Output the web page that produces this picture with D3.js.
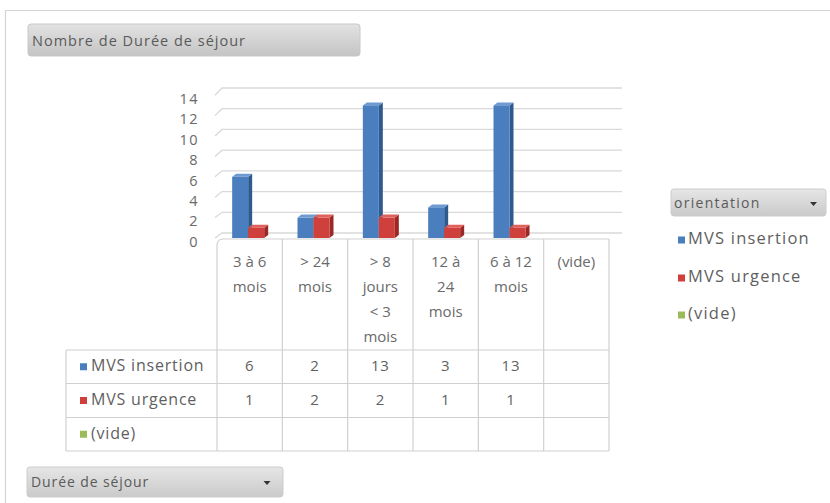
<!DOCTYPE html>
<html>
<head>
<meta charset="utf-8">
<script src="https://cdn.jsdelivr.net/npm/d3@7"></script>
<style>
  html, body { margin: 0; padding: 0; background: #fff; }
  svg { display: block; font-family: "Open Sans", "Noto Sans", sans-serif; }
</style>
</head>
<body>
<svg id="chart" width="830" height="503"></svg>
<script>
// ---- data ----
const categories = ["3 à 6 mois", "> 24 mois", "> 8 jours < 3 mois", "12 à 24 mois", "6 à 12 mois", "(vide)"];
const categoryLines = [["3 à 6", "mois"], ["> 24", "mois"], ["> 8", "jours", "< 3", "mois"], ["12 à", "24", "mois"], ["6 à 12", "mois"], ["(vide)"]];
const seriesNames = ["MVS insertion", "MVS urgence", "(vide)"];
const insertionValues = [6, 2, 13, 3, 13, null];
const urgenceValues = [1, 2, 2, 1, 1, null];
const videValues = [null, null, null, null, null, null];
const yTicks = [0, 2, 4, 6, 8, 10, 12, 14];
const titleText = "Nombre de Durée de séjour";
const legendTitle = "orientation";
const axisFieldText = "Durée de séjour";

const seriesColors = [
  { face: "#4a7ebf", side: "#2f5a8e", top: "#6e9ad2" },
  { face: "#cf3f3b", side: "#9a2926", top: "#e0605b" },
  { face: "#9bbb59", side: "#76913f", top: "#b3cf78" }
];
const seriesValues = [insertionValues, urgenceValues, videValues];

const svg = d3.select("#chart");
const defs = svg.append("defs");
function grad(id, c1, c2) {
  const g = defs.append("linearGradient").attr("id", id).attr("x1", 0).attr("y1", 0).attr("x2", 0).attr("y2", 1);
  g.append("stop").attr("offset", "0%").attr("stop-color", c1);
  g.append("stop").attr("offset", "100%").attr("stop-color", c2);
}
grad("btnTitle", "#e2e2e2", "#c4c4c4");
grad("btnField", "#e6e6e6", "#cacaca");

// ---- scales ----
const x = d3.scaleBand().domain(categories).range([217, 609]);
const yFront = d3.scaleLinear().domain([0, 14]).range([238, 95.2]);
const yBack = d3.scaleLinear().domain([0, 14]).range([233, 88]);
const sideX0 = 215, sideX1 = 222, backRight = 622;

// outer frame
svg.append("path").attr("d", "M5.5,503 V10.5 H830").attr("fill", "none").attr("stroke", "#d4d4d4").attr("stroke-width", 1.2);

// title button
svg.append("rect").attr("x", 28).attr("y", 24).attr("width", 332).attr("height", 32).attr("rx", 3)
  .attr("fill", "url(#btnTitle)").attr("stroke", "#c8c8c8");
svg.append("text").attr("x", 32).attr("y", 42).attr("dominant-baseline", "middle")
  .attr("font-size", 14.5).attr("letter-spacing", 1).attr("fill", "#5a5a5a").text(titleText);

// gridlines (back wall + side wall diagonal)
const grid = svg.append("g").attr("fill", "none").attr("stroke", "#d9d9d9").attr("stroke-width", 1.3);
yTicks.forEach(v => {
  grid.append("path").attr("d", `M${sideX0},${yFront(v)} L${sideX1},${yBack(v)} H${backRight}`);
});

// y tick labels
svg.append("g").selectAll("text").data(yTicks).join("text")
  .attr("x", 199).attr("y", d => yFront(d) + 5)
  .attr("text-anchor", "end").attr("dominant-baseline", "middle")
  .attr("font-size", 14.5).attr("letter-spacing", 1.5).attr("fill", "#6a6a6a").text(d => d);

// ---- 3D bars ----
const barW = 16, dx = 4, dy = 3;
const offsets = [-17.5, -1.5, 14.5];
const bars = svg.append("g");
seriesValues.forEach((vals, si) => {
  const col = seriesColors[si];
  categories.forEach((c, ci) => {
    const v = vals[ci];
    if (v == null) return;
    const x0 = x(c) + x.bandwidth() / 2 + offsets[si];
    const x1 = x0 + barW;
    const yb = yFront(0), yt = yFront(v);
    bars.append("polygon").attr("points", `${x1},${yt} ${x1 + dx},${yt - dy} ${x1 + dx},${yb - dy} ${x1},${yb}`).attr("fill", col.side);
    bars.append("polygon").attr("points", `${x0},${yt} ${x0 + dx},${yt - dy} ${x1 + dx},${yt - dy} ${x1},${yt}`).attr("fill", col.top);
    bars.append("rect").attr("x", x0).attr("y", yt).attr("width", barW).attr("height", yb - yt).attr("fill", col.face);
  });
});

// ---- data table ----
const tableLeft = 66, tableRight = x.range()[1];
const rowLines = [350, 383.5, 417.5, 451];
const lineColor = "#d0d0d0";
const tbl = svg.append("g").attr("stroke", lineColor).attr("stroke-width", 1.2).attr("fill", "none");
tbl.append("path").attr("d", `M${x.range()[0]},246 Q${x.range()[0]},239 ${x.range()[0] + 6},239 H${tableRight}`);
const colEdges = categories.map(c => x(c)).concat([tableRight]);
colEdges.forEach((cx, i) => {
  tbl.append("line").attr("x1", cx).attr("x2", cx).attr("y1", i === 0 ? 246 : 239).attr("y2", rowLines[3]);
});
rowLines.forEach(y => tbl.append("line").attr("x1", tableLeft).attr("x2", tableRight).attr("y1", y).attr("y2", y));
tbl.append("line").attr("x1", tableLeft).attr("x2", tableLeft).attr("y1", rowLines[0]).attr("y2", rowLines[3]);

// category header labels
const catG = svg.append("g").attr("font-size", 15).attr("fill", "#6a6a6a").attr("text-anchor", "middle");
categories.forEach((c, ci) => {
  categoryLines[ci].forEach((ln, li) => {
    catG.append("text").attr("x", x(c) + x.bandwidth() / 2).attr("y", 263 + li * 25)
      .attr("dominant-baseline", "middle").text(ln);
  });
});

// row labels & values
seriesNames.forEach((name, si) => {
  const cy = (rowLines[si] + rowLines[si + 1]) / 2;
  svg.append("rect").attr("x", 80).attr("y", cy - 3.5).attr("width", 7).attr("height", 7).attr("fill", seriesColors[si].face);
  svg.append("text").attr("x", 91).attr("y", cy).attr("dominant-baseline", "middle")
    .attr("font-size", 16).attr("letter-spacing", 0.8).attr("fill", "#5f5f5f").text(name);
  categories.forEach((c, ci) => {
    const v = seriesValues[si][ci];
    if (v == null) return;
    svg.append("text").attr("x", x(c) + x.bandwidth() / 2).attr("y", cy)
      .attr("text-anchor", "middle").attr("dominant-baseline", "middle")
      .attr("font-size", 15).attr("letter-spacing", 0.8).attr("fill", "#5f5f5f").text(v);
  });
});

// ---- legend ----
svg.append("rect").attr("x", 671).attr("y", 189).attr("width", 155).attr("height", 27).attr("rx", 3)
  .attr("fill", "url(#btnField)").attr("stroke", "#cccccc");
svg.append("text").attr("x", 674).attr("y", 204).attr("dominant-baseline", "middle")
  .attr("font-size", 14).attr("letter-spacing", 1.3).attr("fill", "#5a5a5a").text(legendTitle);
svg.append("path").attr("d", "M810,202 h7 l-3.5,4 z").attr("fill", "#333");
const legendY = [240, 278, 315];
seriesNames.forEach((name, si) => {
  svg.append("rect").attr("x", 678).attr("y", legendY[si] - 3.5).attr("width", 7).attr("height", 7).attr("fill", seriesColors[si].face);
  svg.append("text").attr("x", 688).attr("y", legendY[si]).attr("dominant-baseline", "middle")
    .attr("font-size", 16.5).attr("letter-spacing", 1.2).attr("fill", "#5f5f5f").text(name);
});

// ---- axis field button ----
svg.append("rect").attr("x", 27).attr("y", 467).attr("width", 256).attr("height", 30).attr("rx", 3)
  .attr("fill", "url(#btnField)").attr("stroke", "#cccccc");
svg.append("text").attr("x", 31).attr("y", 483).attr("dominant-baseline", "middle")
  .attr("font-size", 14).attr("letter-spacing", 0.9).attr("fill", "#5a5a5a").text(axisFieldText);
svg.append("path").attr("d", "M263.5,481 h7 l-3.5,4 z").attr("fill", "#333");
</script>
</body>
</html>
